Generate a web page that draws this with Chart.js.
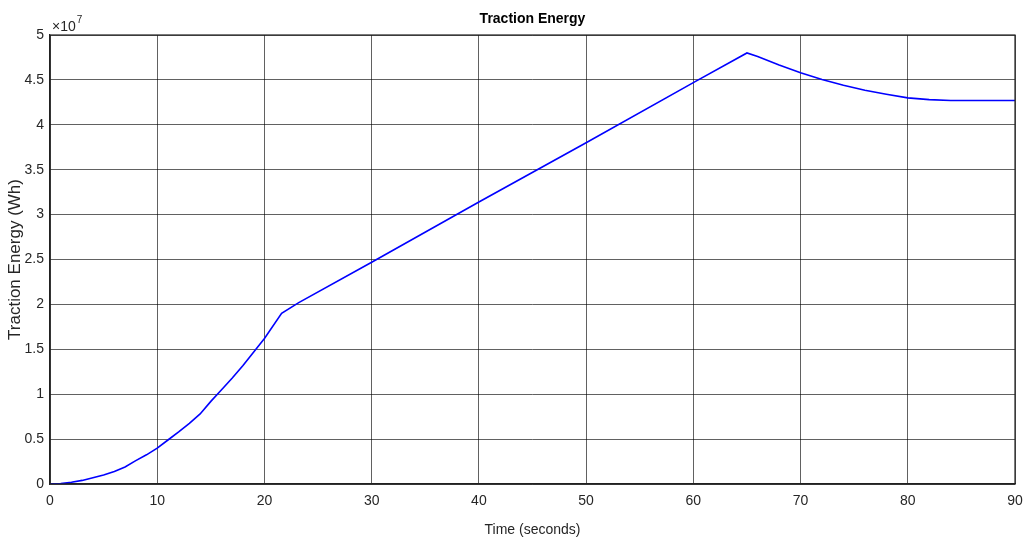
<!DOCTYPE html>
<html>
<head>
<meta charset="utf-8">
<script src="https://cdn.jsdelivr.net/npm/chart.js@4/dist/chart.umd.min.js"></script>
<style>
  html, body { margin: 0; padding: 0; background: #fff; }
  #wrap { width: 1025px; height: 539px; }
</style>
</head>
<body>
<div id="wrap"><canvas id="energyChart" width="1025" height="539"></canvas></div>
<script>
// Time axis (seconds) and traction energy (Wh)
const timeSec = [0, 1, 2, 3, 4, 5, 6, 7, 8, 9, 10, 11, 12, 13, 14, 15, 16, 17, 18, 19, 20, 21.6, 23.2,
                 30, 40, 50, 60, 65, 66, 68, 70, 72, 74, 76, 78, 80, 82, 84, 90];
const energyWh = [0, 0.005e7, 0.02e7, 0.04e7, 0.07e7, 0.10e7, 0.14e7, 0.19e7, 0.26e7, 0.325e7, 0.40e7, 0.49e7,
                  0.58e7, 0.675e7, 0.78e7, 0.92e7, 1.05e7, 1.18e7, 1.32e7, 1.47e7, 1.62e7, 1.90e7, 2.02e7,
                  2.47e7, 3.14e7, 3.80e7, 4.47e7, 4.80e7, 4.76e7, 4.665e7, 4.58e7, 4.505e7, 4.44e7, 4.385e7,
                  4.34e7, 4.30e7, 4.28e7, 4.27e7, 4.27e7];
const xTicks = [0, 10, 20, 30, 40, 50, 60, 70, 80, 90];
const yTicks = [0, 0.5e7, 1e7, 1.5e7, 2e7, 2.5e7, 3e7, 3.5e7, 4e7, 4.5e7, 5e7];

const narrow = "'Liberation Sans Narrow', 'Liberation Sans', Arial, sans-serif";
const tickFont = { family: narrow, size: 14 };
const gridColor = 'rgba(0,0,0,0.62)';

// title and the x10^7 exponent label, MATLAB style
const extras = {
    id: 'extras',
    afterDraw(chart) {
        const ctx = chart.ctx;
        const area = chart.chartArea;
        ctx.save();
        ctx.fillStyle = '#000';
        ctx.font = "bold 14px 'Liberation Sans', Arial, sans-serif";
        ctx.textAlign = 'center';
        ctx.textBaseline = 'middle';
        ctx.fillText('Traction Energy', (area.left + area.right) / 2, 19);

        // plot box
        ctx.strokeStyle = '#222';
        ctx.lineWidth = 1.2;
        ctx.strokeRect(area.left, area.top, area.right - area.left, area.bottom - area.top);

        ctx.fillStyle = '#262626';
        ctx.textAlign = 'left';
        ctx.textBaseline = 'alphabetic';
        ctx.font = "14px " + narrow;
        ctx.fillText('\u00d710', area.left + 2, area.top - 4);
        const w = ctx.measureText('\u00d710').width;
        ctx.font = "10px " + narrow;
        ctx.fillText('7', area.left + 3 + w, area.top - 12);
        ctx.restore();
    }
};

new Chart(document.getElementById('energyChart'), {
    type: 'line',
    data: {
        datasets: [{
            data: timeSec.map((t, i) => ({ x: t, y: energyWh[i] })),
            borderColor: '#0000ff',
            borderWidth: 1.6,
            pointRadius: 0,
            tension: 0,
            fill: false
        }]
    },
    options: {
        responsive: false,
        animation: false,
        layout: { padding: { top: 35, right: 10, left: 0, bottom: 0 } },
        plugins: { legend: { display: false }, tooltip: { enabled: false } },
        scales: {
            x: {
                type: 'linear',
                min: 0,
                max: 90,
                afterBuildTicks(scale) { scale.ticks = xTicks.map(v => ({ value: v })); },
                afterFit(scale) { scale.height = 55; scale.paddingLeft = 0; scale.paddingRight = 0; },
                grid: { color: gridColor, lineWidth: 1, drawTicks: false },
                border: { color: '#222', width: 1.2 },
                ticks: { color: '#262626', font: tickFont, padding: 9, maxRotation: 0 },
                title: {
                    display: true,
                    text: 'Time (seconds)',
                    color: '#262626',
                    font: { family: narrow, size: 14 },
                    padding: { top: 5, bottom: 0 }
                }
            },
            y: {
                min: 0,
                max: 5e7,
                afterBuildTicks(scale) { scale.ticks = yTicks.map(v => ({ value: v })); },
                afterFit(scale) { scale.width = 50; scale.paddingTop = 0; scale.paddingBottom = 0; },
                grid: { color: gridColor, lineWidth: 1, drawTicks: false },
                border: { color: '#222', width: 1.2 },
                ticks: {
                    color: '#262626',
                    font: tickFont,
                    padding: 6,
                    callback: v => String(v / 1e7)
                },
                title: {
                    display: true,
                    text: 'Traction Energy (Wh)',
                    color: '#262626',
                    font: { family: "'Liberation Sans', Arial, sans-serif", size: 17 },
                    padding: { top: 5, bottom: 0 }
                }
            }
        }
    },
    plugins: [extras]
});
</script>
</body>
</html>
